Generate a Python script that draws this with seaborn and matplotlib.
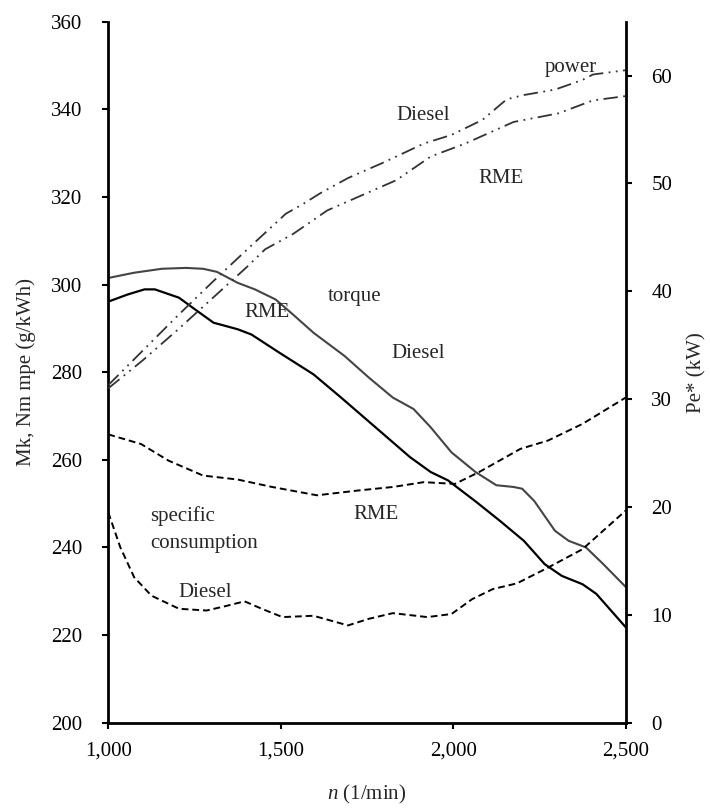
import matplotlib
matplotlib.use("Agg")
import matplotlib.pyplot as plt
import seaborn as sns
import pandas as pd

# ---- data ----
torque_diesel_rpm = [1000, 1075, 1155, 1225, 1275, 1315, 1375, 1425, 1485, 1535, 1595, 1685, 1755, 1825, 1885,
                     1935, 1995, 2065, 2125, 2175, 2200, 2235, 2295, 2335, 2385, 2435, 2500]
torque_diesel = [301.5, 302.7, 303.6, 303.8, 303.6, 302.9, 300.4, 298.9, 296.6, 293.2, 289.0, 283.7, 278.8, 274.2, 271.6,
                 267.4, 261.7, 257.2, 254.2, 253.8, 253.4, 250.6, 243.8, 241.5, 240.0, 236.2, 231.0]

torque_rme_rpm = [1000, 1055, 1105, 1135, 1205, 1245, 1305, 1375, 1415, 1495, 1595, 1675, 1775, 1875, 1935,
                  1985, 2065, 2135, 2205, 2265, 2315, 2375, 2415, 2500]
torque_rme = [296.1, 297.7, 298.9, 298.9, 297.0, 294.7, 291.3, 289.8, 288.6, 284.5, 279.5, 274.2, 267.4, 260.6, 257.2,
              255.3, 250.5, 246.1, 241.5, 236.2, 233.5, 231.6, 229.4, 221.8]

sfc_rme_rpm = [1000, 1095, 1175, 1275, 1375, 1475, 1605, 1725, 1825, 1915, 2005, 2075, 2195, 2275, 2375, 2500]
sfc_rme = [265.8, 263.6, 259.8, 256.4, 255.5, 253.8, 251.9, 253.0, 253.8, 254.9, 254.5, 257.2, 262.5, 264.4, 268.2, 274.2]

sfc_diesel_rpm = [1000, 1035, 1075, 1125, 1205, 1285, 1345, 1395, 1445, 1505, 1595, 1695, 1755, 1825, 1925,
                  1995, 2055, 2115, 2185, 2275, 2375, 2500]
sfc_diesel = [248.0, 240.0, 233.2, 229.0, 226.0, 225.6, 226.7, 227.7, 226.0, 224.1, 224.4, 222.2, 223.7, 225.0, 224.1,
              224.8, 228.2, 230.5, 231.8, 235.4, 239.6, 248.4]

power_diesel_rpm = [1000, 1100, 1200, 1300, 1400, 1515, 1565, 1615, 1695, 1795, 1915, 1995, 2085, 2155, 2205,
                    2295, 2375, 2405, 2500]
power_diesel = [31.3, 34.5, 37.7, 40.8, 43.8, 47.2, 48.1, 49.1, 50.5, 51.9, 53.7, 54.5, 55.9, 57.8, 58.2,
                58.7, 59.6, 60.1, 60.5]

power_rme_rpm = [1000, 1100, 1200, 1300, 1400, 1455, 1535, 1635, 1735, 1835, 1935, 2035, 2175, 2305, 2405, 2500]
power_rme = [31.0, 33.6, 36.4, 39.3, 42.2, 43.9, 45.3, 47.5, 48.9, 50.3, 52.5, 53.7, 55.7, 56.5, 57.7, 58.1]

x_ticks = [1000, 1500, 2000, 2500]
x_ticklabels = ["1,000", "1,500", "2,000", "2,500"]
left_ticks = [200, 220, 240, 260, 280, 300, 320, 340, 360]
right_ticks = [0, 10, 20, 30, 40, 50, 60]

# ---- style ----
sns.set_style("ticks")
plt.rcParams['font.family'] = ['Liberation Serif', 'DejaVu Serif']
plt.rcParams['mathtext.fontset'] = 'custom'
plt.rcParams['mathtext.it'] = 'Liberation Serif:italic'
plt.rcParams['mathtext.rm'] = 'Liberation Serif'

fig = plt.figure(figsize=(7.10, 8.09), dpi=100)
ax = fig.add_axes([0.1525, 0.1067, 0.7287, 0.8665])
ax2 = ax.twinx()

def df(x, y):
    return pd.DataFrame({"x": x, "y": y})

sns.lineplot(data=df(torque_diesel_rpm, torque_diesel), x="x", y="y", ax=ax, color="#444444", lw=1.5)
sns.lineplot(data=df(torque_rme_rpm, torque_rme), x="x", y="y", ax=ax, color="black", lw=1.6)
sns.lineplot(data=df(sfc_rme_rpm, sfc_rme), x="x", y="y", ax=ax, color="black", lw=1.4)
ax.lines[-1].set_dashes([3.5, 2])
sns.lineplot(data=df(sfc_diesel_rpm, sfc_diesel), x="x", y="y", ax=ax, color="black", lw=1.4)
ax.lines[-1].set_dashes([3.5, 2])

sns.lineplot(data=df(power_diesel_rpm, power_diesel), x="x", y="y", ax=ax2, color="#333333", lw=1.3)
ax2.lines[-1].set_dashes([8, 3, 1, 3, 1, 3])
sns.lineplot(data=df(power_rme_rpm, power_rme), x="x", y="y", ax=ax2, color="#333333", lw=1.3)
ax2.lines[-1].set_dashes([8, 3, 1, 3, 1, 3])

ax.set_xlim(1000, 2500)
ax.set_ylim(200, 360)
ax2.set_ylim(0, 65)
ax.set_xticks(x_ticks)
ax.set_xticklabels(x_ticklabels)
ax.set_yticks(left_ticks)
ax2.set_yticks(right_ticks)

for a in (ax, ax2):
    a.spines['top'].set_visible(False)
    for s in ('left', 'right', 'bottom'):
        a.spines[s].set_linewidth(2.0)
        a.spines[s].set_color('black')
    a.tick_params(direction='out', length=4.5, width=1.5, labelsize=15, colors='black', pad=14)
ax.tick_params(axis='x', pad=9)
ax.spines['right'].set_visible(False)
ax2.spines['left'].set_visible(False)
ax2.spines['bottom'].set_visible(False)

ax.set_xlabel(r"$n$ (1/min)", fontsize=15, labelpad=16)
ax.set_ylabel("Mk, Nm mpe (g/kWh)", fontsize=15, labelpad=11)
ax2.set_ylabel("Pe* (kW)", fontsize=15, labelpad=11)

fs = 15
ax.text(2340, 349.6, "power", fontsize=fs, ha='center', va='center')
ax.text(1912, 338.5, "Diesel", fontsize=fs, ha='center', va='center')
ax.text(2140, 324.2, "RME", fontsize=fs, ha='center', va='center')
ax.text(1714, 297.2, "torque", fontsize=fs, ha='center', va='center')
ax.text(1460, 293.6, "RME", fontsize=fs, ha='center', va='center')
ax.text(1897, 284.2, "Diesel", fontsize=fs, ha='center', va='center')
ax.text(1122, 247.2, "specific", fontsize=fs, ha='left', va='center')
ax.text(1122, 241.0, "consumption", fontsize=fs, ha='left', va='center')
ax.text(1776, 247.6, "RME", fontsize=fs, ha='center', va='center')
ax.text(1280, 229.8, "Diesel", fontsize=fs, ha='center', va='center')

fig.savefig("out.png", dpi=100)
